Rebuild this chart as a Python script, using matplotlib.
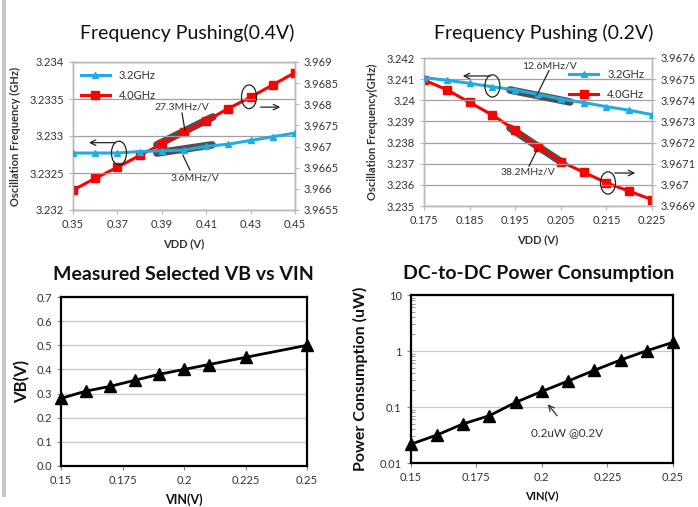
import matplotlib
matplotlib.use("Agg")
import matplotlib.pyplot as plt
from matplotlib.patches import Ellipse, Rectangle
from matplotlib.ticker import LogLocator, NullFormatter

plt.rcParams['font.family'] = ['Lato', 'DejaVu Sans']

# ---------------- data ----------------
vdd_04 = [0.35, 0.36, 0.37, 0.38, 0.39, 0.40, 0.41, 0.42, 0.43, 0.44, 0.45]
f32_04 = [3.23277, 3.23277, 3.23277, 3.23279, 3.23280, 3.23281, 3.23286, 3.23289, 3.23294, 3.23299, 3.23304]
f40_04 = [3.96597, 3.96625, 3.96651, 3.96679, 3.96706, 3.96734, 3.96761, 3.96790, 3.96817, 3.96846, 3.96875]

vdd_02 = [0.175, 0.18, 0.185, 0.19, 0.195, 0.2, 0.205, 0.21, 0.215, 0.22, 0.225]
f32_02 = [3.24107, 3.24095, 3.24080, 3.24064, 3.24049, 3.24028, 3.24006, 3.23989, 3.23970, 3.23953, 3.23932]
f40_02 = [3.967496, 3.96745, 3.96739, 3.96733, 3.96726, 3.96718, 3.96711, 3.96706, 3.96701, 3.96697, 3.96693]

vin_vb = [0.15, 0.16, 0.17, 0.18, 0.19, 0.20, 0.21, 0.225, 0.25]
vb = [0.28, 0.31, 0.33, 0.355, 0.38, 0.40, 0.42, 0.45, 0.50]

vin_p = [0.15, 0.16, 0.17, 0.18, 0.19, 0.20, 0.21, 0.22, 0.23, 0.24, 0.25]
power = [0.0216, 0.0316, 0.050, 0.070, 0.121, 0.19, 0.291, 0.452, 0.69, 1.01, 1.43]

legend_labels = ['3.2GHz', '4.0GHz']
titles = ['Frequency Pushing(0.4V)', 'Frequency Pushing (0.2V)',
          'Measured Selected VB vs VIN', 'DC-to-DC Power Consumption']

BLUE = '#22aae2'
RED = '#ff0000'
GRID = '#a0a0a0'
SPINE = '#b8b8b8'
TXT = '#333333'
BAND = '#505050'

W, H = 698, 507
fig = plt.figure(figsize=(W / 100, H / 100), dpi=100)


def frac(l, r, t, b):
    return [l / W, 1 - b / H, (r - l) / W, (b - t) / H]


# left gray stripe
fig.add_artist(Rectangle((2 / W, 10 / H), 4 / W, 497 / H, transform=fig.transFigure,
                         color='#c8c8c8', lw=0))


def style_top(ax, ax2):
    for a in (ax, ax2):
        for s in a.spines.values():
            s.set_color(SPINE)
            s.set_linewidth(1.0)
        a.tick_params(labelsize=8, colors=TXT, length=3, width=0.8)
        a.tick_params(axis='both', color=SPINE)
    ax.yaxis.grid(True, color=GRID, lw=0.9)
    ax.set_axisbelow(True)


# ---------------- panel 1 ----------------
ax1 = fig.add_axes(frac(73, 295, 62, 210))
ax1b = ax1.twinx()
ax1.set_xlim(0.35, 0.45)
ax1.set_ylim(3.232, 3.234)
ax1b.set_ylim(3.9655, 3.969)
ax1.set_xticks([0.35, 0.37, 0.39, 0.41, 0.43, 0.45])
ax1.set_xticklabels(['0.35', '0.37', '0.39', '0.41', '0.43', '0.45'])
ax1.set_yticks([3.232, 3.2325, 3.233, 3.2335, 3.234])
ax1.set_yticklabels(['3.232', '3.2325', '3.233', '3.2335', '3.234'])
ax1b.set_yticks([3.9655, 3.966, 3.9665, 3.967, 3.9675, 3.968, 3.9685, 3.969])
ax1b.set_yticklabels(['3.9655', '3.966', '3.9665', '3.967', '3.9675', '3.968', '3.9685', '3.969'])
style_top(ax1, ax1b)
ax1.set_zorder(ax1b.get_zorder() + 1)
ax1.patch.set_visible(False)

# highlight bands
ax1b.plot([0.3878, 0.413], [3.96704, 3.96770], color=BAND, lw=5.5, solid_capstyle='round', zorder=1)
ax1.plot([0.3878, 0.4126], [3.23277, 3.23288], color=BAND, lw=5.5, solid_capstyle='round', zorder=1)

l1, = ax1.plot(vdd_04, f32_04, color=BLUE, lw=2.2, marker='^', ms=5, zorder=4)
l2, = ax1b.plot(vdd_04, f40_04, color=RED, lw=2.2, marker='s', ms=5.5, zorder=3)
ax1.legend([l1, l2], legend_labels, loc='upper left', bbox_to_anchor=(0.0, 1.0),
           frameon=False, fontsize=8, handlelength=2.6, labelspacing=0.8,
           borderaxespad=0.3, labelcolor=TXT)

ax1.add_patch(Ellipse((0.3707, 3.23277), 0.0068, 0.00032, fill=False, ec='#222222', lw=0.9, zorder=6))
ax1.add_patch(Ellipse((0.4293, 3.23353), 0.0068, 0.00032, fill=False, ec='#222222', lw=0.9, zorder=6))
ax1.annotate('', xy=(0.3559, 3.23291), xytext=(0.3703, 3.23291),
             arrowprops=dict(arrowstyle='->', color='#222222', lw=0.9), zorder=6)
ax1.annotate('', xy=(0.4446, 3.23339), xytext=(0.4333, 3.23339),
             arrowprops=dict(arrowstyle='->', color='#222222', lw=0.9), zorder=6)
ax1.text(0.3991, 3.23339, '27.3MHz/V', fontsize=7.5, color=TXT, ha='center', va='center', zorder=6)
ax1.plot([0.3991, 0.4004], [3.23331, 3.23308], color='#222222', lw=0.9, zorder=6)
ax1.text(0.4050, 3.23243, '3.6MHz/V', fontsize=7.5, color=TXT, ha='center', va='center', zorder=6)
ax1.plot([0.3995, 0.4027], [3.23274, 3.23254], color='#222222', lw=0.9, zorder=6)

ax1.set_xlabel('VDD (V)', fontsize=8, color=TXT, fontweight='bold', labelpad=6)
ax1.set_ylabel('Oscillation Frequency (GHz)', fontsize=8, color=TXT, fontweight='bold', labelpad=6)
fig.text(187 / W, 1 - 33 / H, titles[0], fontsize=14, ha='center', va='center', color='#111111')

# ---------------- panel 2 ----------------
ax2 = fig.add_axes(frac(424, 652, 58, 206))
ax2b = ax2.twinx()
ax2.set_xlim(0.175, 0.225)
ax2.set_ylim(3.235, 3.242)
ax2b.set_ylim(3.9669, 3.9676)
ax2.set_xticks([0.175, 0.185, 0.195, 0.205, 0.215, 0.225])
ax2.set_xticklabels(['0.175', '0.185', '0.195', '0.205', '0.215', '0.225'])
ax2.set_yticks([3.235, 3.236, 3.237, 3.238, 3.239, 3.24, 3.241, 3.242])
ax2.set_yticklabels(['3.235', '3.236', '3.237', '3.238', '3.239', '3.24', '3.241', '3.242'])
ax2b.set_yticks([3.9669, 3.967, 3.9671, 3.9672, 3.9673, 3.9674, 3.9675, 3.9676])
ax2b.set_yticklabels(['3.9669', '3.967', '3.9671', '3.9672', '3.9673', '3.9674', '3.9675', '3.9676'])
style_top(ax2, ax2b)
ax2.set_zorder(ax2b.get_zorder() + 1)
ax2.patch.set_visible(False)

ax2.plot([0.19386, 0.20702], [3.240487, 3.23992], color=BAND, lw=5.5, solid_capstyle='round', zorder=1)
ax2b.plot([0.19386, 0.20548], [3.967269, 3.967103], color=BAND, lw=5.5, solid_capstyle='round', zorder=1)

m1, = ax2.plot(vdd_02, f32_02, color=BLUE, lw=2.2, marker='^', ms=5, zorder=3)
m2, = ax2b.plot(vdd_02, f40_02, color=RED, lw=2.2, marker='s', ms=5.5, zorder=3)
ax2.legend([m1, m2], legend_labels, loc='upper right', bbox_to_anchor=(1.0, 0.98),
           frameon=False, fontsize=8, handlelength=2.6, labelspacing=0.8,
           borderaxespad=0.3, labelcolor=TXT)

ax2.add_patch(Ellipse((0.19000, 3.24068), 0.0033, 0.00105, fill=False, ec='#222222', lw=0.9, zorder=6))
ax2.add_patch(Ellipse((0.21535, 3.23609), 0.0033, 0.00105, fill=False, ec='#222222', lw=0.9, zorder=6))
ax2.annotate('', xy=(0.18289, 3.24115), xytext=(0.19013, 3.24115),
             arrowprops=dict(arrowstyle='->', color='#222222', lw=0.9), zorder=6)
ax2.annotate('', xy=(0.22193, 3.23656), xytext=(0.21623, 3.23656),
             arrowprops=dict(arrowstyle='->', color='#222222', lw=0.9), zorder=6)
ax2.text(0.20263, 3.24162, '12.6MHz/V', fontsize=7.5, color=TXT, ha='center', va='center', zorder=6)
ax2.plot([0.2024, 0.19978], [3.24140, 3.24025], color='#222222', lw=0.9, zorder=6)
ax2.text(0.19781, 3.23661, '38.2MHz/V', fontsize=7.5, color=TXT, ha='center', va='center', zorder=6)
ax2.plot([0.19978, 0.19803], [3.23765, 3.23689], color='#222222', lw=0.9, zorder=6)

ax2.set_xlabel('VDD (V)', fontsize=8, color=TXT, fontweight='bold', labelpad=6)
ax2.set_ylabel('Oscillation Frequency(GHz)', fontsize=8, color=TXT, fontweight='bold', labelpad=6)
fig.text(544 / W, 1 - 33 / H, titles[1], fontsize=14, ha='center', va='center', color='#111111')


# ---------------- panel 3 ----------------
def style_bottom(ax):
    for s in ax.spines.values():
        s.set_color('#000000')
        s.set_linewidth(1.6)
    ax.tick_params(labelsize=8, colors='#333333', length=3, width=0.8)
    ax.tick_params(axis='both', color='#888888')
    ax.yaxis.grid(True, color='#c8c8c8', lw=0.9)
    ax.set_axisbelow(True)


ax3 = fig.add_axes(frac(61, 307, 297, 466))
ax3.set_xlim(0.15, 0.25)
ax3.set_ylim(0.0, 0.7)
ax3.set_xticks([0.15, 0.175, 0.2, 0.225, 0.25])
ax3.set_xticklabels(['0.15', '0.175', '0.2', '0.225', '0.25'])
ax3.set_yticks([0.0, 0.1, 0.2, 0.3, 0.4, 0.5, 0.6, 0.7])
ax3.set_yticklabels(['0.0', '0.1', '0.2', '0.3', '0.4', '0.5', '0.6', '0.7'])
style_bottom(ax3)
ax3.plot(vin_vb, vb, color='black', lw=2.0, marker='^', ms=8, clip_on=False, zorder=4)
ax3.set_xlabel('VIN(V)', fontsize=9, fontweight='bold', color='#111111', labelpad=5)
ax3.set_ylabel('VB(V)', fontsize=12, fontweight='bold', color='#111111', labelpad=4)
fig.text(183 / W, 1 - 274 / H, titles[2], fontsize=14, fontweight='bold', ha='center', va='center', color='#111111')

# ---------------- panel 4 ----------------
ax4 = fig.add_axes(frac(410.7, 673, 295, 463))
ax4.set_yscale('log')
ax4.set_xlim(0.15, 0.25)
ax4.set_ylim(0.01, 10)
ax4.set_xticks([0.15, 0.175, 0.2, 0.225, 0.25])
ax4.set_xticklabels(['0.15', '0.175', '0.2', '0.225', '0.25'])
ax4.set_yticks([0.01, 0.1, 1, 10])
ax4.set_yticklabels(['0.01', '0.1', '1', '10'])
ax4.yaxis.set_minor_locator(LogLocator(base=10, subs=range(2, 10)))
ax4.yaxis.set_minor_formatter(NullFormatter())
style_bottom(ax4)
ax4.tick_params(axis='y', which='minor', direction='in', length=3, color='#888888')
ax4.plot(vin_p, power, color='black', lw=2.0, marker='^', ms=8, clip_on=False, zorder=4)
ax4.annotate('', xy=(0.2016, 0.1227), xytext=(0.2065, 0.0637),
             arrowprops=dict(arrowstyle='->', color='#333333', lw=0.9))
ax4.text(0.2096, 0.0343, '0.2uW @0.2V', fontsize=8.5, color='#333333', ha='center', va='center')
ax4.set_xlabel('VIN(V)', fontsize=8, fontweight='bold', color='#111111', labelpad=5)
ax4.set_ylabel('Power Consumption (uW)', fontsize=11.5, fontweight='bold', color='#111111', labelpad=8)
fig.text(539 / W, 1 - 274 / H, titles[3], fontsize=14, fontweight='bold', ha='center', va='center', color='#111111')

fig.savefig('out.png', dpi=100)
